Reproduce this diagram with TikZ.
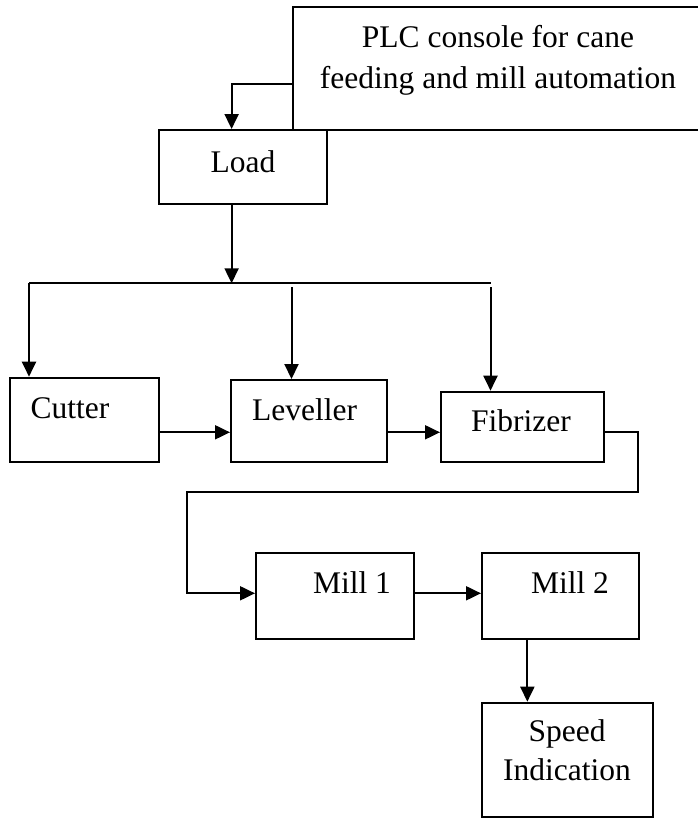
\documentclass[tikz,border=0pt]{standalone}
\usepackage{fontspec}
\setmainfont{Liberation Serif}
\usetikzlibrary{arrows.meta,positioning,calc}
\definecolor{fdink}{HTML}{000000}

\begin{document}
\begin{tikzpicture}[x=1pt,y=-1pt,
    blk/.style={draw=fdink,line width=2pt,inner sep=0pt},
    lnk/.style={draw=fdink,line width=2pt},
    arr/.style={lnk,-{Triangle[length=15pt,width=14pt]}},
    txt/.style={anchor=base,inner sep=0pt,font=\fontsize{31.5}{38}\selectfont}]
  \useasboundingbox (0,0) rectangle (697,819);
  % blocks
  \node[blk,minimum width=417pt,minimum height=122.5pt] (plc) at (501.5,68.25) {};
  \node[blk,minimum width=168.5pt,minimum height=74pt] (load) at (242.75,167) {};
  \node[blk,minimum width=149pt,minimum height=84.3pt] (cutter) at (84.5,419.85) {};
  \node[blk,minimum width=156pt,minimum height=81.7pt] (leveller) at (309,420.85) {};
  \node[blk,minimum width=162.5pt,minimum height=70pt] (fibrizer) at (522.25,426.7) {};
  \node[blk,minimum width=158pt,minimum height=86pt] (mill1) at (335,596.3) {};
  \node[blk,minimum width=156.7pt,minimum height=86pt] (mill2) at (560.35,596.3) {};
  \node[blk,minimum width=171pt,minimum height=114.3pt] (speed) at (567.8,759.85) {};
  % labels
  \node[txt] (plctxta) at (498,47) {PLC console for cane};
  \node[txt] (plctxtb) at (498,88) {feeding and mill automation};
  \node[txt] (loadtxt) at (243,172) {Load};
  \node[txt] (cuttertxt) at (70,418) {Cutter};
  \node[txt] (levellertxt) at (304.5,420) {Leveller};
  \node[txt] (fibrizertxt) at (521,431.7) {Fibrizer};
  \node[txt] (mill1txt) at (352,593.3) {Mill 1};
  \node[txt] (mill2txt) at (570,593.3) {Mill 2};
  \node[txt] (speedtxta) at (567,741.7) {Speed};
  \node[txt] (speedtxtb) at (567,780) {Indication};
  % bus and bends
  \coordinate (busL) at (29,283.3);
  \coordinate (busR) at (490.5,283.3);
  \coordinate (busM) at (291.5,287);
  \coordinate (busF) at (490.5,287);
  \coordinate (row) at (0,432.3);
  \coordinate (millrow) at (0,593.3);
  \coordinate (turn) at (186.7,491.7);
  % connectors
  \draw[arr] (plc.west |- 0,84) -| ([xshift=-11.15pt]load.north);
  \draw[arr] ([xshift=-11.15pt]load.south) -- ([xshift=-11.15pt]load.south |- busL);
  \draw[lnk] (busL) -- (busR);
  \draw[arr] (busL) -- (busL |- cutter.north);
  \draw[arr] (busM) -- (busM |- leveller.north);
  \draw[arr] (busF) -- (busF |- fibrizer.north);
  \draw[arr] (cutter.east |- row) -- (leveller.west |- row);
  \draw[arr] (leveller.east |- row) -- (fibrizer.west |- row);
  \draw[arr] (fibrizer.east |- row) -- ++(33,0) |- (turn) |- (mill1.west |- millrow);
  \draw[arr] (mill1.east |- millrow) -- (mill2.west |- millrow);
  \draw[arr] ([xshift=-33pt]mill2.south) -- ([xshift=-33pt]mill2.south |- speed.north);
\end{tikzpicture}
\end{document}
